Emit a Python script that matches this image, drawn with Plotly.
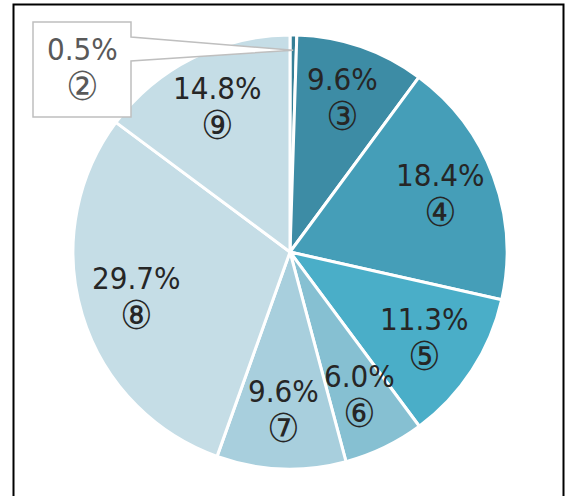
import math
import plotly.graph_objects as go

# ---- data ----
labels = ["②", "③", "④", "⑤", "⑥", "⑦", "⑧", "⑨"]
values = [0.5, 9.6, 18.4, 11.3, 6.0, 9.6, 29.7, 14.8]
pct_text = ["0.5%", "9.6%", "18.4%", "11.3%", "6.0%", "9.6%", "29.7%", "14.8%"]
colors = ["#357f96", "#3d8ca5", "#459eb8", "#4aaec8", "#86c0d2", "#a8cfdd", "#c5dde6", "#c5dde6"]

W, H = 570, 496
CX, CY, R = 290, 252, 217  # pie centre / radius in pixels


def px(x):
    return x / W


def py(y):
    return 1 - y / H


fig = go.Figure(go.Pie(
    labels=labels,
    values=values,
    sort=False,
    direction="clockwise",
    rotation=0,
    textinfo="none",
    hoverinfo="label+percent",
    marker=dict(colors=colors, line=dict(color="white", width=3)),
    domain=dict(x=[px(CX - R), px(CX + R)], y=[py(CY + R), py(CY - R)]),
    showlegend=False,
))

FONT = "DejaVu Sans Condensed, DejaVu Sans, sans-serif"
CIRC = '<span style="font-size:40px">{}</span>'
total = sum(values)
annotations = []
shapes = []
cum = 0.0
for i, (lab, v, t) in enumerate(zip(labels, values, pct_text)):
    mid = (cum + v / 2) / total * 2 * math.pi
    cum += v
    if i == 0:
        # callout for the tiny slice
        tipr = 0.93 * R
        tx, ty = CX + tipr * math.sin(mid), CY - tipr * math.cos(mid)
        bx0, bx1, by0, by1 = 33, 131, 22, 117
        path = (f"M {px(bx0)},{py(by0)} L {px(bx1)},{py(by0)} L {px(bx1)},{py(37)} "
                f"L {px(tx)},{py(ty)} L {px(bx1)},{py(61)} L {px(bx1)},{py(by1)} "
                f"L {px(bx0)},{py(by1)} Z")
        shapes.append(dict(type="path", xref="paper", yref="paper", path=path,
                           fillcolor="white", line=dict(color="#bfbfbf", width=1.5),
                           layer="above"))
        annotations.append(dict(x=px((bx0 + bx1) / 2), y=py((by0 + by1) / 2),
                                xref="paper", yref="paper", showarrow=False,
                                xanchor="center", yanchor="middle",
                                text=f"{t}<br>{CIRC.format(lab)}",
                                font=dict(family=FONT, size=31, color="#595959")))
    else:
        r = 0.74 * R
        x, y = CX + r * math.sin(mid), CY - r * math.cos(mid)
        annotations.append(dict(x=px(x), y=py(y), xref="paper", yref="paper",
                                showarrow=False, xanchor="center", yanchor="middle",
                                text=f"{t}<br>{CIRC.format(lab)}",
                                font=dict(family=FONT, size=31, color="#262626")))

# outer frame
shapes.append(dict(type="rect", xref="paper", yref="paper",
                   x0=px(13.5), x1=px(563.5), y0=py(520), y1=py(4.5),
                   line=dict(color="black", width=2), fillcolor="rgba(0,0,0,0)",
                   layer="above"))

fig.update_layout(
    width=W, height=H,
    margin=dict(l=0, r=0, t=0, b=0),
    paper_bgcolor="white", plot_bgcolor="white",
    shapes=shapes, annotations=annotations,
)

fig.write_html("out.html", config={"displayModeBar": False},
               post_script="document.body.style.margin='0';document.body.style.overflow='hidden';")
